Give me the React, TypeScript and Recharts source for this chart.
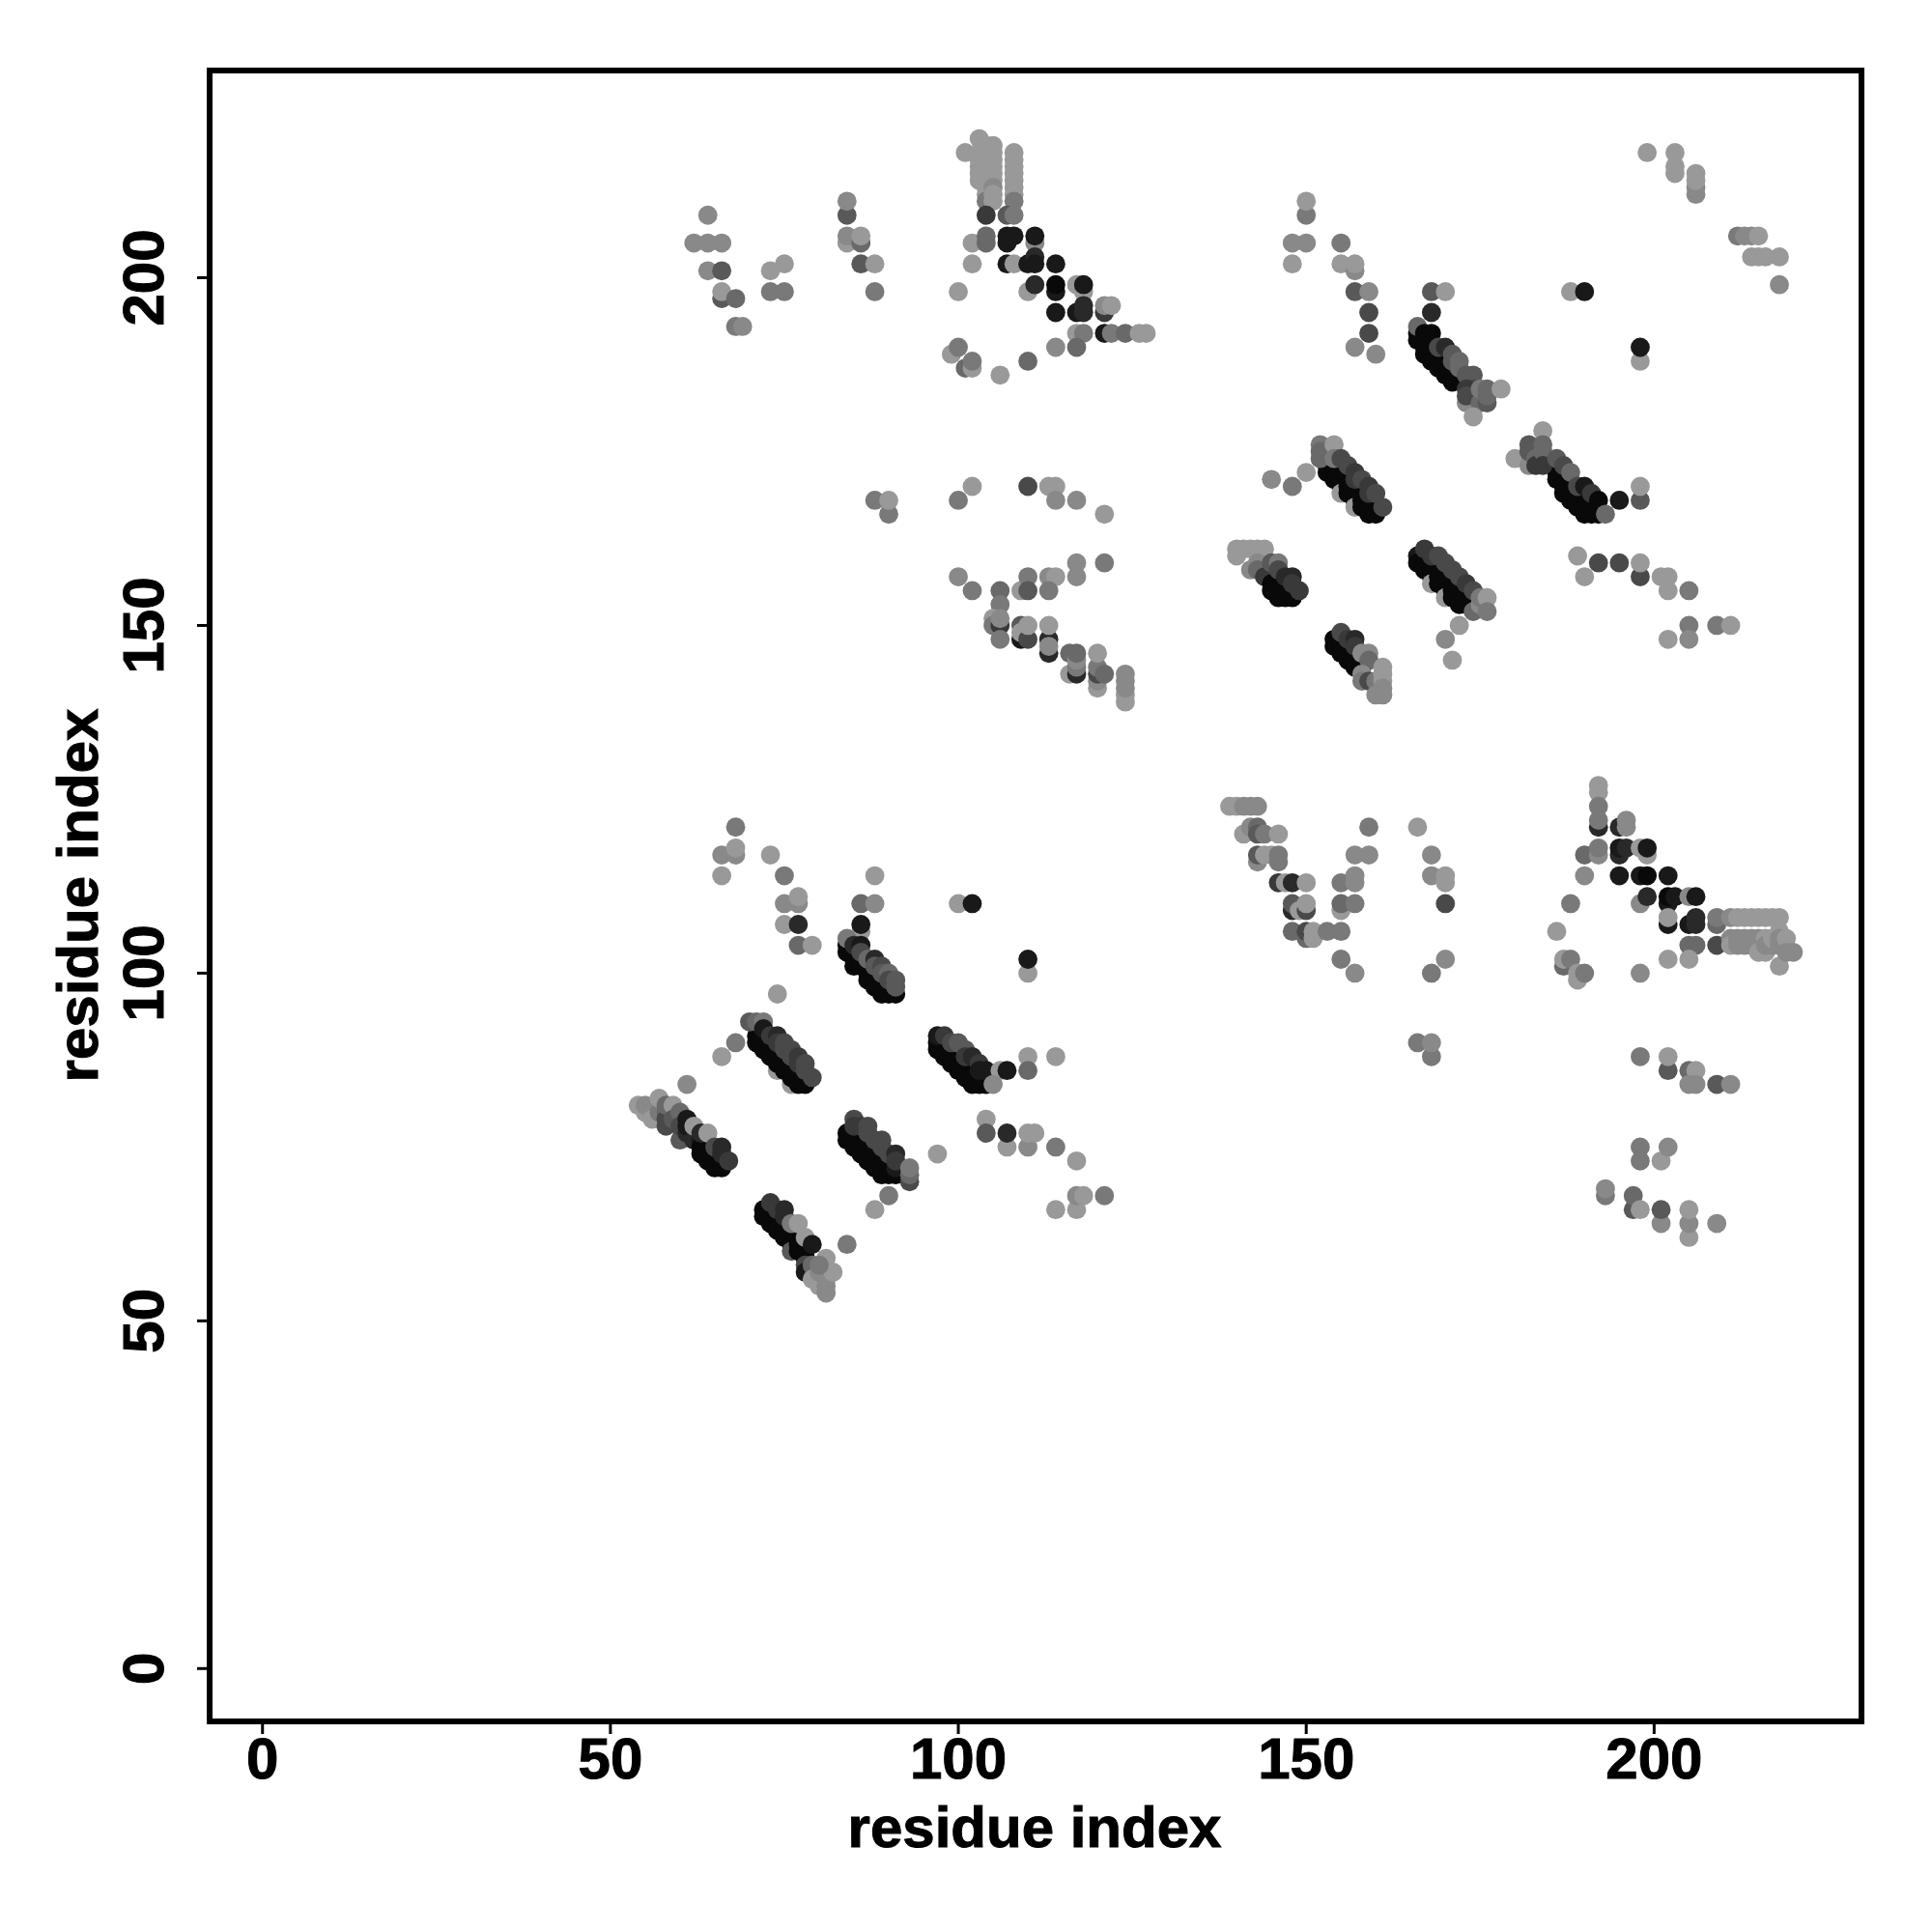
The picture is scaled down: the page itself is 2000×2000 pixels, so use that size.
import React from 'react';
import { ScatterChart, Scatter, XAxis, YAxis, ReferenceArea, Label } from 'recharts';

type P = [number, number, number];
const xTicks = [0, 50, 100, 150, 200];
const yTicks = [0, 50, 100, 150, 200];
const axisTitle = 'residue index';

// [residue i, residue j, contact level 0 (weak) .. 9 (strong)]
const lowerLeftScatter: P[] = [
  [68,121,2],[66,117,1],[68,117,1],[68,118,0],[66,114,0],[73,117,0],[75,114,2],[75,110,1],[77,110,1],[77,111,0],[75,107,0],[77,107,7],[77,104,3],[79,104,0],
  [88,114,0],[86,110,3],[88,110,1],[100,110,0],[102,110,8],[110,100,0],[110,102,8],[74,97,0],[68,90,2],[66,88,0],[84,61,2],[88,66,0],[90,68,2],[97,74,0],
  [61,84,1],[104,79,0],[104,77,4],[107,75,0],[107,77,7],[110,75,1],[110,77,0],[111,77,0],[114,75,2],[117,73,0],[114,66,0],[117,66,0],[117,68,1],[118,68,0],[121,68,2],
  [110,88,0],[110,86,3],[114,88,0],
];
const bandB: P[] = [
  [86,106,0],[84,104,9],[84,103,9],[85,103,9],[85,102,9],[85,101,9],[86,102,9],[86,101,9],[87,100,9],[87,99,9],[88,100,9],[88,99,9],[88,98,9],[89,98,9],[89,97,9],[90,98,9],[90,97,9],[91,97,9],
  [84,105,2],[86,107,8],[85,104,7],[86,104,8],[86,103,5],[87,102,3],[88,102,7],[88,101,4],[89,101,5],[89,100,4],[90,100,3],[90,99,5],[91,99,4],[91,98,4],
];
const bandC: P[] = [
  [71,91,9],[71,90,9],[72,90,9],[72,89,9],[73,89,9],[73,88,9],[74,86,0],[74,88,9],[74,87,9],[75,87,9],[75,86,9],[76,84,0],[76,86,9],[76,85,9],[77,85,9],[77,84,9],[78,84,9],
  [70,93,4],[71,93,3],[72,93,2],[72,92,8],[73,91,6],[74,91,7],[74,90,6],[75,90,5],[75,89,5],[76,89,5],[76,88,5],[77,88,6],[77,87,6],[78,87,5],[78,86,5],[79,85,5],
];
const bandD: P[] = [
  [54,81,0],[55,80,0],[55,81,1],[56,80,1],[56,79,0],[57,79,0],[57,80,2],[57,82,0],[58,80,3],[58,79,5],[58,78,5],[58,81,3],[59,81,0],[59,79,4],[60,80,3],[60,76,4],[60,78,5],
  [61,77,7],[61,79,8],[61,78,8],[62,76,7],[62,78,0],[63,76,8],[63,75,9],[63,74,9],[64,74,9],[64,73,9],[63,77,7],[64,77,0],[65,73,9],[65,72,9],[66,72,9],[65,75,5],[66,74,7],[66,75,7],[67,73,6],
];
const bandE: P[] = [
  [72,66,9],[72,65,9],[73,65,9],[73,64,9],[74,64,9],[74,63,9],[75,63,9],[75,62,9],[76,62,9],[76,61,9],[76,60,4],[77,61,9],[77,60,9],[78,60,9],[78,59,9],[78,58,5],[78,57,8],
  [73,67,6],[74,66,6],[75,66,7],[75,65,7],[76,64,2],[77,64,0],[78,62,0],[79,61,8],[79,58,3],[79,56,0],[80,55,0],[80,57,1],[81,54,1],[81,56,1],[81,59,0],[81,55,1],[82,57,0],[80,58,2],
];
const bandG: P[] = [
  [97,90,9],[97,89,9],[98,89,9],[98,88,9],[99,88,9],[99,87,9],[100,87,9],[100,86,9],[101,86,9],[101,85,9],[102,85,9],[102,84,9],[103,84,9],[104,84,9],
  [97,91,8],[98,91,6],[99,90,5],[100,90,4],[101,89,4],[101,88,6],[102,88,7],[103,87,6],[103,86,8],[104,86,8],[106,86,0],[105,84,1],[107,86,8],
];
const bandH: P[] = [
  [84,77,9],[84,76,9],[85,76,9],[85,75,9],[86,75,9],[86,74,9],[87,74,9],[87,73,9],[88,73,9],[88,72,9],[89,72,9],[89,71,9],[90,71,9],[91,71,9],[91,72,8],
  [85,79,5],[85,78,6],[86,78,6],[87,78,5],[87,77,5],[88,76,5],[89,76,5],[89,75,5],[90,74,5],[91,74,7],[91,73,6],[93,70,5],[93,71,3],[93,72,2],
];
const upperLeftScatter: P[] = [
  [64,209,1],[62,205,1],[64,205,1],[66,205,1],[64,201,1],[66,201,4],[66,197,4],[66,198,0],[68,197,3],[68,193,2],[69,193,1],[73,201,0],[75,202,0],[73,198,2],[75,198,2],
  [84,209,4],[84,211,1],[84,205,0],[84,206,1],[86,205,3],[86,206,0],[86,202,4],[88,202,0],[88,198,2],
];
const upperPeak: P[] = [
  [101,218,0],[103,220,0],[103,218,0],[103,217,0],[103,216,0],[103,215,0],[103,214,0],[104,219,0],[104,218,0],[104,217,0],[104,216,0],[104,215,0],[104,214,0],[104,213,0],[104,212,0],[104,211,2],
  [105,219,0],[105,218,0],[105,217,0],[105,216,0],[105,215,0],[105,214,0],[105,213,1],[105,212,0],[105,211,0],[108,218,0],[108,217,0],[108,216,0],[108,215,0],[108,214,0],[108,213,0],[108,212,0],[108,211,2],
  [104,209,6],[107,209,4],[108,209,2],[102,205,0],[104,205,3],[104,206,3],[107,205,8],[107,206,8],[108,206,8],[111,205,1],[111,206,8],[102,202,0],[107,202,8],[108,202,0],[110,202,8],[111,203,7],[111,202,8],[114,202,8],
  [100,198,0],[110,198,0],[111,199,7],[114,198,8],[114,199,9],[117,199,0],[118,198,0],[118,199,8],[114,195,8],[117,195,8],[118,195,7],[118,196,7],[121,195,6],[121,196,1],[122,196,0],
  [117,192,0],[118,192,2],[121,192,8],[122,192,2],[124,192,3],[126,192,0],[127,192,0],[114,190,1],[117,190,3],[99,189,0],[100,190,2],[101,187,3],[102,187,0],[102,188,2],[106,186,0],[110,188,3],
];
const middleScatter: P[] = [
  [88,168,2],[90,166,2],[90,168,0],[102,170,0],[100,168,2],[110,170,5],[113,170,0],[114,170,0],[114,168,1],[117,168,1],[121,166,0],[117,157,1],[117,159,1],[121,159,2],
  [100,157,1],[102,155,2],[106,155,3],[109,155,0],[110,157,2],[110,155,4],[113,157,1],[114,157,0],[113,155,2],[106,153,2],[105,151,0],[105,150,2],[106,150,6],[106,151,1],[106,148,2],
  [109,148,8],[109,150,4],[109,149,0],[110,148,5],[110,150,0],[113,146,7],[113,148,7],[113,147,1],[113,150,0],[116,143,0],[116,146,3],[117,143,7],[117,144,2],[117,145,1],[117,146,3],
  [120,141,0],[120,142,1],[120,143,5],[120,144,2],[120,146,0],[121,143,3],[124,139,0],[124,140,0],[124,141,1],[124,142,1],[124,143,1],
];
const upperRightScatter: P[] = [
  [150,209,2],[150,211,0],[148,205,1],[150,205,1],[155,205,2],[148,202,0],[155,202,0],[157,201,1],[157,202,0],[157,198,4],[159,198,1],[159,195,5],[159,192,5],[157,190,1],[160,189,1],
  [168,198,4],[170,198,0],[168,195,7],[188,198,0],[190,198,8],[198,188,0],[198,190,8],[199,218,0],[203,215,0],[203,216,0],[203,218,0],[206,212,1],[206,213,1],[206,214,0],[206,215,0],
  [212,206,2],[213,206,1],[214,206,1],[215,206,0],[214,203,0],[215,203,0],[216,203,0],[218,203,0],[218,199,1],
  [145,171,1],[148,170,2],[150,172,0],[172,150,0],[170,148,1],[171,145,0],
  [189,160,0],[192,159,5],[195,159,5],[198,157,5],[198,159,0],[190,157,0],[201,157,0],[202,157,0],[202,155,0],[205,155,2],[205,150,2],[209,150,2],[211,150,0],[202,148,0],[205,148,1],
];
const band166: P[] = [
  [166,192,9],[166,191,9],[167,190,9],[167,189,9],[168,189,9],[168,188,9],[169,188,9],[169,187,9],[170,187,9],[170,186,9],[171,186,9],[171,185,9],[173,182,1],
  [166,193,3],[167,192,9],[168,192,9],[169,190,5],[170,190,7],[171,189,4],[171,188,4],[172,188,3],[172,187,3],[173,186,4],[174,186,4],[174,184,5],[173,184,6],[173,183,5],[175,182,3],[174,180,0],[176,182,4],[175,184,2],[176,184,3],[176,183,3],[178,184,0],
];
const band152: P[] = [
  [153,173,9],[153,172,9],[154,172,9],[154,171,9],[155,171,9],[155,170,9],[155,169,0],[156,170,9],[156,169,9],[157,169,9],[157,168,9],[157,167,0],[158,168,9],[158,167,9],[159,167,9],[159,166,9],[160,166,9],
  [152,176,2],[152,175,3],[152,174,3],[153,175,3],[154,176,0],[154,174,2],[155,174,5],[156,173,5],[157,172,6],[157,171,6],[158,171,5],[159,170,6],[159,169,6],[160,169,5],[161,167,5],
];
const band181: P[] = [
  [186,172,9],[186,171,9],[187,170,9],[187,169,9],[188,169,9],[188,168,9],[189,168,9],[189,167,9],[190,167,9],[190,166,9],[191,167,9],[191,166,9],[192,166,9],
  [184,178,0],[180,174,0],[182,173,1],[182,176,4],[182,175,4],[183,174,3],[183,173,6],[184,176,3],[184,175,3],[184,173,6],[186,174,4],[187,173,5],[188,172,3],[189,170,5],[190,170,8],[191,169,6],[192,168,9],[193,166,3],[195,168,8],[198,168,4],[198,170,0],
];
const band141: P[] = [
  [140,160,0],[140,161,0],[141,161,0],[142,161,0],[143,161,0],[144,161,0],[142,158,1],[143,159,1],[143,158,3],[144,157,6],[145,156,9],[145,155,9],[146,155,9],[146,154,9],[147,154,9],[148,154,9],
  [145,159,4],[146,159,2],[146,158,5],[147,157,7],[148,157,7],[148,156,6],[149,155,6],
];
const band166low: P[] = [
  [166,160,8],[166,159,9],[167,159,9],[167,158,9],[168,158,9],[168,157,9],[168,156,0],[169,157,9],[169,156,9],[170,156,9],[170,155,9],[170,154,0],[171,155,9],[171,154,9],[172,154,9],[172,153,9],[173,153,9],
  [167,161,6],[168,160,6],[169,160,5],[170,159,5],[171,158,5],[172,157,5],[173,156,6],[174,155,5],[174,152,3],[175,153,1],[175,154,2],[176,154,0],[176,152,2],
];
const band153: P[] = [
  [154,148,9],[154,147,9],[155,147,9],[155,146,9],[156,146,9],[156,145,9],[157,145,9],[157,144,9],[158,144,9],[155,149,5],[156,148,6],[157,148,7],[157,147,6],[158,146,1],[159,146,1],[159,145,3],
  [158,143,1],[158,142,2],[159,142,5],[160,142,2],[160,140,1],[161,144,0],[161,143,0],[161,142,0],[161,141,1],[161,140,1],
];
const lowerMiddleScatter: P[] = [
  [139,124,0],[140,124,0],[141,124,1],[142,124,1],[143,124,1],[141,120,0],[142,121,1],[143,121,3],[143,120,4],[144,120,2],[146,120,0],
  [143,116,1],[143,117,4],[144,117,0],[145,117,0],[146,116,2],[146,117,2],[146,113,6],[147,113,0],[148,113,7],[150,113,0],[148,109,7],[148,110,4],[149,109,0],[150,109,5],[150,110,0],
  [148,106,3],[150,105,3],[150,106,5],[151,105,0],[151,106,0],[153,106,2],[155,106,2],[155,113,2],[157,113,1],[157,114,1],[157,117,1],[159,117,1],[159,121,2],[155,109,0],[155,110,3],[157,110,2],[155,102,2],[157,100,1],
  [166,121,0],[168,117,1],[168,114,1],[170,113,0],[170,114,0],[170,110,5],[170,102,1],[168,100,2],[166,90,2],[168,88,2],[168,90,1],
];
const lowerRightPeak: P[] = [
  [192,127,0],[192,126,0],[192,124,2],[192,121,7],[192,122,2],[195,121,7],[196,121,1],[196,122,1],[190,117,3],[192,117,1],[192,118,2],[195,117,7],[195,118,8],[196,118,7],[199,117,0],[198,118,0],[199,118,8],
  [190,114,1],[195,114,8],[198,114,8],[199,114,9],[202,114,8],[188,110,2],[198,110,1],[199,111,7],[202,110,8],[202,111,9],[203,111,8],[205,111,1],[206,111,8],[202,107,8],[202,108,0],[205,107,8],[206,107,7],[206,108,7],
  [209,107,3],[209,108,2],[205,104,3],[206,104,3],[209,104,5],[186,106,0],[202,102,0],[205,102,0],[198,100,1],[187,101,3],[187,102,0],[188,102,2],[189,99,0],[189,100,0],[190,100,2],
];
const lowerRightRows: P[] = [
  [211,108,1],[212,108,0],[213,108,0],[214,108,0],[215,108,0],[216,108,0],[217,108,0],[218,108,0],[218,106,0],
  [211,105,1],[211,104,0],[212,105,1],[212,104,1],[213,105,1],[213,104,1],[214,105,1],[214,104,1],[215,105,1],[215,104,1],[215,103,0],[216,105,0],[216,103,0],[216,104,1],[217,104,1],[217,105,0],[218,105,1],[218,104,1],[218,101,0],[219,105,0],[219,103,1],[220,103,1],
];
const lowerRightScatter: P[] = [
  [198,88,2],[202,86,4],[202,88,0],[205,86,3],[206,86,0],[205,84,1],[206,84,1],[209,84,4],[211,84,1],[198,73,2],[198,75,2],[201,73,0],[202,75,1],
  [193,68,2],[193,69,1],[197,66,4],[197,68,3],[198,66,0],[201,64,1],[201,66,4],[205,62,0],[205,64,1],[205,66,0],[209,64,1],
];

const rows = [
  lowerLeftScatter, bandB, bandC, bandD, bandE, bandG, bandH, upperLeftScatter, upperPeak, middleScatter,
  upperRightScatter, band166, band152, band181, band141, band166low, band153, lowerMiddleScatter,
  lowerRightPeak, lowerRightRows, lowerRightScatter,
].flat();
const contacts = rows.map(([i, j, level]) => ({ i, j, level }));

const XLOW = -7.6, XHIGH = 229.8;
const FONT = '"Liberation Sans", Arial, sans-serif';
const LABEL_SIZE = 60;

const Dot = (props: any) => {
  const g = 0x99 - 16 * props.payload.level;
  return <circle cx={props.cx} cy={props.cy} r={9.9} fill={`rgb(${g},${g},${g})`} />;
};
const YTick = (props: any) => (
  <text
    x={149} y={props.y}
    transform={`rotate(-90 149 ${props.y})`}
    textAnchor="middle" dominantBaseline="central"
    fontFamily={FONT} fontWeight={700} fontSize={LABEL_SIZE} stroke="#000" strokeWidth={1} fill="#000"
  >{props.payload.value}</text>
);
const XTick = (props: any) => (
  <text
    x={props.x} y={1820}
    textAnchor="middle" dominantBaseline="central"
    fontFamily={FONT} fontWeight={700} fontSize={LABEL_SIZE} stroke="#000" strokeWidth={1} fill="#000"
  >{props.payload.value}</text>
);
const XTitle = (props: any) => (
  <text x={1071} y={1891} textAnchor="middle" dominantBaseline="central"
    fontFamily={FONT} fontWeight={700} fontSize={LABEL_SIZE} stroke="#000" strokeWidth={1} fill="#000">{axisTitle}</text>
);
const YTitle = (props: any) => (
  <text x={80} y={927} transform="rotate(-90 80 927)" textAnchor="middle" dominantBaseline="central"
    fontFamily={FONT} fontWeight={700} fontSize={LABEL_SIZE} stroke="#000" strokeWidth={1} fill="#000">{axisTitle}</text>
);

export default function App() {
  return (
    <div style={{ position: 'absolute', left: 0, top: 0, width: 2000, height: 2000, background: '#fff' }}>
      <ScatterChart width={2000} height={2000} margin={{ left: 0, right: 73, top: 73, bottom: 0 }}>
        <XAxis type="number" dataKey="i" domain={[XLOW, XHIGH]} ticks={xTicks} height={218} allowDataOverflow
          tick={<XTick />} tickSize={13} tickLine={{ stroke: '#000', strokeWidth: 3 }} axisLine={false} interval={0}>
          <Label content={<XTitle />} />
        </XAxis>
        <YAxis type="number" dataKey="j" domain={[XLOW, XHIGH]} ticks={yTicks} width={217} allowDataOverflow
          tick={<YTick />} tickSize={13} tickLine={{ stroke: '#000', strokeWidth: 3 }} axisLine={false} interval={0}>
          <Label content={<YTitle />} />
        </YAxis>
        <ReferenceArea x1={XLOW} x2={XHIGH} y1={XLOW} y2={XHIGH} fill="none" stroke="#000" strokeWidth={6} ifOverflow="visible" />
        <Scatter data={contacts} isAnimationActive={false} shape={<Dot />} />
      </ScatterChart>
    </div>
  );
}
